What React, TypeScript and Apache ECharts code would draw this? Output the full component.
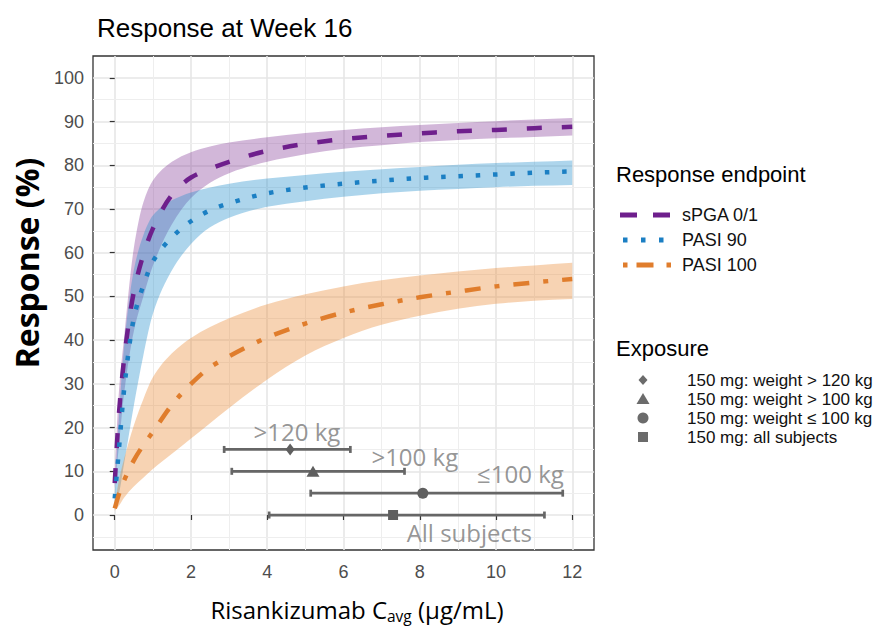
import React, { useEffect, useRef } from 'react';
import * as echarts from 'echarts';

// ---- Data ----
const cavg = [0, 0.1, 0.25, 0.5, 0.75, 1, 1.5, 2, 2.5, 3, 4, 5, 6, 7, 8, 9, 10, 11, 12];

const spgaMid = [7.3, 22, 36, 51, 59.5, 65.5, 73.2, 77.2, 79.2, 80.8, 83.3, 84.9, 86, 86.7, 87.3, 87.8, 88.1, 88.5, 88.8];
const spgaHigh = [8.5, 27, 41, 61, 71.5, 76.5, 80.8, 83, 84.3, 85.2, 86.4, 87.4, 88.1, 88.7, 89.2, 89.7, 90.1, 90.5, 90.8];
const spgaLow = [6, 15, 28, 42, 50, 57, 66.5, 72.5, 76, 78.2, 80.8, 82.5, 83.8, 84.6, 85.3, 85.8, 86.2, 86.5, 86.8];

const pasi90Mid = [3.8, 14, 29, 45, 52.5, 58, 63.5, 67.2, 69.7, 71.3, 73.6, 74.9, 75.8, 76.5, 77.1, 77.5, 77.9, 78.3, 78.6];
const pasi90High = [5, 21, 39, 56, 64, 68.5, 72, 73.8, 74.9, 75.8, 77, 77.8, 78.5, 79.1, 79.6, 80.1, 80.5, 80.8, 81.1];
const pasi90Low = [2, 4.5, 12, 25, 36.5, 46, 56, 62, 65.8, 68, 70.5, 71.8, 72.8, 73.6, 74.2, 74.6, 75, 75.3, 75.5];

const pasi100Mid = [1.5, 4.5, 8, 12.5, 16, 19, 25.2, 30, 33.8, 36.3, 40.6, 43.8, 46.3, 48.2, 49.8, 51.1, 52.3, 53.2, 54];
const pasi100High = [2, 7.5, 13, 20.5, 26.5, 31.5, 37, 40.5, 43, 45, 48.2, 50.5, 52.3, 53.7, 54.8, 55.7, 56.5, 57.1, 57.7];
const pasi100Low = [1, 2, 4, 6.5, 8.5, 10.5, 14, 17.5, 21, 24.5, 31, 36.5, 40.5, 43.5, 45.6, 47.2, 48.3, 49, 49.4];

const endpointNames = ['sPGA 0/1', 'PASI 90', 'PASI 100'];

const exposureGroups = ['>120 kg', '>100 kg', '\u2264100 kg', 'All subjects'];
const exposureLegend = [
  '150 mg: weight > 120 kg',
  '150 mg: weight > 100 kg',
  '150 mg: weight \u2264 100 kg',
  '150 mg: all subjects',
];
const exposureY = [15, 10, 5, 0];
const exposureMedian = [4.6, 5.2, 8.08, 7.3];
const exposureLow = [2.87, 3.07, 5.14, 4.05];
const exposureHigh = [6.18, 7.6, 11.75, 11.27];
const groupLabelX = [4.78, 7.87, 10.64, 9.3];
const groupLabelY = [19, 13.3, 9.4, -3.9];

const xTicks = [0, 2, 4, 6, 8, 10, 12];
const yTicks = [0, 10, 20, 30, 40, 50, 60, 70, 80, 90, 100];
const xMinor = [1, 3, 5, 7, 9, 11];
const yMinor = [-5, 5, 15, 25, 35, 45, 55, 65, 75, 85, 95];

// ---- Styles ----
const PURPLE = '#6e1f8c';
const BLUE = '#1b7fc3';
const ORANGE = '#e07d2c';
const GREY = '#666666';
const SYMBOLS = ['diamond', 'triangle', 'circle', 'rect'];
const SYMBOL_SIZES: any[] = [[9, 12], [13, 11], 11, 10];
const TICK_FONT = '"Liberation Sans", Arial, sans-serif';
const CAL_FONT = '"Open Sans", "Noto Sans", sans-serif';

// Monotone cubic (in pixel x) bezier segments through projected points
function segments(pts: number[][]) {
  const n = pts.length;
  const dx: number[] = [];
  const m: number[] = [];
  for (let i = 0; i < n - 1; i++) {
    dx[i] = pts[i + 1][0] - pts[i][0];
    m[i] = (pts[i + 1][1] - pts[i][1]) / (dx[i] || 1e-6);
  }
  const t: number[] = [];
  t[0] = m[0];
  t[n - 1] = m[n - 2];
  for (let i = 1; i < n - 1; i++) {
    if (m[i - 1] * m[i] <= 0) t[i] = 0;
    else {
      const w1 = 2 * dx[i] + dx[i - 1];
      const w2 = dx[i] + 2 * dx[i - 1];
      t[i] = (w1 + w2) / (w1 / m[i - 1] + w2 / m[i]);
    }
  }
  const out: number[][][] = [];
  for (let i = 0; i < n - 1; i++) {
    const h = dx[i] / 3;
    out.push([
      pts[i],
      [pts[i][0] + h, pts[i][1] + t[i] * h],
      [pts[i + 1][0] - h, pts[i + 1][1] - t[i + 1] * h],
      pts[i + 1],
    ]);
  }
  return out;
}
const P = (p: number[]) => p[0].toFixed(2) + ',' + p[1].toFixed(2);

function bandSeries(name: string, lo: number[], hi: number[], fill: string) {
  return {
    type: 'custom',
    name,
    silent: true,
    z: 1,
    data: cavg.map((x, i) => [x, lo[i], hi[i]]),
    encode: { x: 0, y: [1, 2] },
    renderItem: (params: any, api: any) => {
      if (params.dataIndex !== 0) return null;
      const up = cavg.map((x, i) => api.coord([x, hi[i]]));
      const dn = cavg.map((x, i) => api.coord([x, lo[i]]));
      let d = 'M' + P(up[0]);
      segments(up).forEach((s) => (d += ' C' + P(s[1]) + ' ' + P(s[2]) + ' ' + P(s[3])));
      d += ' L' + P(dn[dn.length - 1]);
      segments(dn)
        .reverse()
        .forEach((s) => (d += ' C' + P(s[2]) + ' ' + P(s[1]) + ' ' + P(s[0])));
      d += ' Z';
      return { type: 'path', shape: { pathData: d }, style: { fill, stroke: null } };
    },
  };
}

function lineSeries(name: string, mid: number[], color: string, dash: number[]) {
  return {
    type: 'custom',
    name,
    silent: true,
    z: 3,
    data: cavg.map((x, i) => [x, mid[i]]),
    encode: { x: 0, y: 1 },
    renderItem: (params: any, api: any) => {
      if (params.dataIndex !== 0) return null;
      const pts = cavg.map((x, i) => api.coord([x, mid[i]]));
      let d = 'M' + P(pts[0]);
      segments(pts).forEach((s) => (d += ' C' + P(s[1]) + ' ' + P(s[2]) + ' ' + P(s[3])));
      return {
        type: 'path',
        shape: { pathData: d },
        style: { fill: null, stroke: color, lineWidth: 4.5, lineDash: dash, lineCap: 'butt' },
      };
    },
  };
}

export default function App() {
  const ref = useRef<HTMLDivElement>(null);

  useEffect(() => {
    if (!ref.current) return;
    const chart = echarts.init(ref.current, undefined, { renderer: 'svg' });

    const legendGraphics: any[] = [];
    legendGraphics.push({
      type: 'text', x: 616, y: 174,
      style: { text: 'Response endpoint', font: '22px ' + TICK_FONT, fill: '#000', align: 'left', verticalAlign: 'middle' },
    });
    const keyColors = [PURPLE, BLUE, ORANGE];
    const keyShapes = [
      { x1: 620, x2: 670, dash: [17, 16] },
      { x1: 623, x2: 664, dash: [4.5, 13.5] },
      { x1: 623, x2: 672, dash: [4.5, 9, 17, 13] },
    ];
    endpointNames.forEach((n, i) => {
      const y = 215 + i * 25;
      legendGraphics.push({
        type: 'line',
        shape: { x1: keyShapes[i].x1, y1: y, x2: keyShapes[i].x2, y2: y },
        style: { stroke: keyColors[i], lineWidth: 5, lineDash: keyShapes[i].dash, lineCap: 'butt' },
      });
      legendGraphics.push({
        type: 'text', x: 682, y,
        style: { text: n, font: '18px ' + TICK_FONT, fill: '#111', align: 'left', verticalAlign: 'middle', lineHeight: 20 },
      });
    });
    legendGraphics.push({
      type: 'text', x: 616, y: 348,
      style: { text: 'Exposure', font: '22px ' + TICK_FONT, fill: '#000', align: 'left', verticalAlign: 'middle' },
    });
    const exY = [380, 399, 418, 437];
    const sx = 643;
    exposureLegend.forEach((t, i) => {
      const y = exY[i];
      let shape: any;
      if (i === 0) shape = { type: 'polygon', shape: { points: [[sx, y - 5], [sx + 4.5, y], [sx, y + 5], [sx - 4.5, y]] } };
      else if (i === 1) shape = { type: 'polygon', shape: { points: [[sx, y - 6], [sx + 6.5, y + 5], [sx - 6.5, y + 5]] } };
      else if (i === 2) shape = { type: 'circle', shape: { cx: sx, cy: y, r: 5.5 } };
      else shape = { type: 'rect', shape: { x: sx - 5, y: y - 5, width: 10, height: 10 } };
      shape.style = { fill: '#6b6b6b' };
      legendGraphics.push(shape);
      legendGraphics.push({
        type: 'text', x: 687, y,
        style: { text: t, font: '17px ' + TICK_FONT, fill: '#111', align: 'left', verticalAlign: 'middle', lineHeight: 18 },
      });
    });

    const option: any = {
      animation: false,
      backgroundColor: '#fff',
      title: {
        text: 'Response at Week 16',
        left: 92,
        top: 8,
        textStyle: { fontSize: 26, fontWeight: 'normal', color: '#000', fontFamily: TICK_FONT, lineHeight: 30 },
      },
      grid: {
        left: 93, right: 289, top: 56, bottom: 80,
        show: true, borderColor: '#333', borderWidth: 1.3, backgroundColor: 'transparent',
        containLabel: false,
      },
      xAxis: {
        type: 'value',
        min: -0.57,
        max: 12.57,
        splitNumber: 6,
        minInterval: 2,
        maxInterval: 2,
        axisLine: { show: false },
        axisTick: { show: true, length: 5, lineStyle: { color: '#333', width: 1.2 }, customValues: xTicks },
        axisLabel: {
          customValues: xTicks,
          margin: 13,
          fontSize: 18,
          color: '#4d4d4d',
          fontFamily: TICK_FONT,
          formatter: (v: number) => (xTicks.indexOf(v) >= 0 ? String(v) : ''),
        },
        splitLine: { show: true, lineStyle: { color: '#e6e6e6', width: 1.6 } },
      },
      yAxis: {
        type: 'value',
        min: -8,
        max: 105,
        splitNumber: 11,
        minInterval: 10,
        maxInterval: 10,
        axisLine: { show: false },
        axisTick: { show: true, length: 5, lineStyle: { color: '#333', width: 1.2 }, customValues: yTicks },
        axisLabel: {
          customValues: yTicks,
          margin: 9,
          fontSize: 18,
          color: '#4d4d4d',
          fontFamily: TICK_FONT,
          formatter: (v: number) => (yTicks.indexOf(v) >= 0 ? String(v) : ''),
        },
        splitLine: { show: true, lineStyle: { color: '#e6e6e6', width: 1.6 } },
      },
      graphic: [
        {
          type: 'text', x: 26, y: 263, rotation: Math.PI / 2,
          style: { text: 'Response (%)', font: 'bold 32px ' + CAL_FONT, fill: '#000', align: 'center', verticalAlign: 'middle' },
        },
        {
          type: 'text', x: 357, y: 609,
          style: {
            text: '{a|Risankizumab C}{s|avg}{a| (\u03bcg/mL)}',
            align: 'center',
            verticalAlign: 'middle',
            rich: {
              a: { fontSize: 24, fontFamily: CAL_FONT, fill: '#000', lineHeight: 30 },
              s: { fontSize: 15.5, fontFamily: CAL_FONT, fill: '#000', lineHeight: 30, padding: [14, 0, 0, 0] },
            },
          },
        },
        ...legendGraphics,
      ],
      series: [
        {
          type: 'line',
          id: 'minor-grid',
          data: [],
          silent: true,
          z: 0,
          markLine: {
            silent: true,
            z: 0,
            symbol: ['none', 'none'],
            label: { show: false },
            animation: false,
            lineStyle: { color: '#eeeeee', width: 1, type: 'solid' },
            emphasis: { disabled: true },
            data: [...xMinor.map((v) => ({ xAxis: v })), ...yMinor.map((v) => ({ yAxis: v }))],
          },
        },
        bandSeries('sPGA 0/1 band', spgaLow, spgaHigh, 'rgba(122, 45, 145, 0.34)'),
        bandSeries('PASI 90 band', pasi90Low, pasi90High, 'rgba(40, 145, 205, 0.38)'),
        bandSeries('PASI 100 band', pasi100Low, pasi100High, 'rgba(232, 132, 45, 0.36)'),
        lineSeries(endpointNames[0], spgaMid, PURPLE, [15, 20]),
        lineSeries(endpointNames[1], pasi90Mid, BLUE, [4.5, 12.8]),
        lineSeries(endpointNames[2], pasi100Mid, ORANGE, [16, 14, 5, 14]),
        {
          type: 'custom',
          name: 'Exposure range',
          data: exposureY.map((y, i) => [exposureLow[i], exposureHigh[i], y]),
          encode: { x: [0, 1], y: 2 },
          z: 4,
          renderItem: (_p: any, api: any) => {
            const a = api.coord([api.value(0), api.value(2)]);
            const b = api.coord([api.value(1), api.value(2)]);
            const h = 3.5;
            const st = { stroke: GREY, lineWidth: 2.7 };
            return {
              type: 'group',
              children: [
                { type: 'line', shape: { x1: a[0], y1: a[1], x2: b[0], y2: b[1] }, style: st },
                { type: 'line', shape: { x1: a[0], y1: a[1] - h, x2: a[0], y2: a[1] + h }, style: st },
                { type: 'line', shape: { x1: b[0], y1: b[1] - h, x2: b[0], y2: b[1] + h }, style: st },
              ],
            };
          },
        },
        {
          type: 'scatter',
          name: 'Exposure median',
          z: 5,
          data: exposureMedian.map((m, i) => ({
            value: [m, exposureY[i]],
            symbol: SYMBOLS[i],
            symbolSize: SYMBOL_SIZES[i],
          })),
          itemStyle: { color: '#5f5f5f', opacity: 1 },
        },
        {
          type: 'scatter',
          name: 'Group labels',
          z: 5,
          silent: true,
          symbolSize: 0,
          data: groupLabelX.map((x, i) => ({ value: [x, groupLabelY[i]], name: exposureGroups[i] })),
          label: {
            show: true,
            position: 'inside',
            formatter: (p: any) => exposureGroups[p.dataIndex],
            color: '#7a7a7a',
            fontSize: 24,
            fontFamily: CAL_FONT,
          },
        },
      ],
    };

    chart.setOption(option);
    return () => chart.dispose();
  }, []);

  return <div ref={ref} style={{ position: 'absolute', left: 0, top: 0, width: 883, height: 630 }} />;
}
